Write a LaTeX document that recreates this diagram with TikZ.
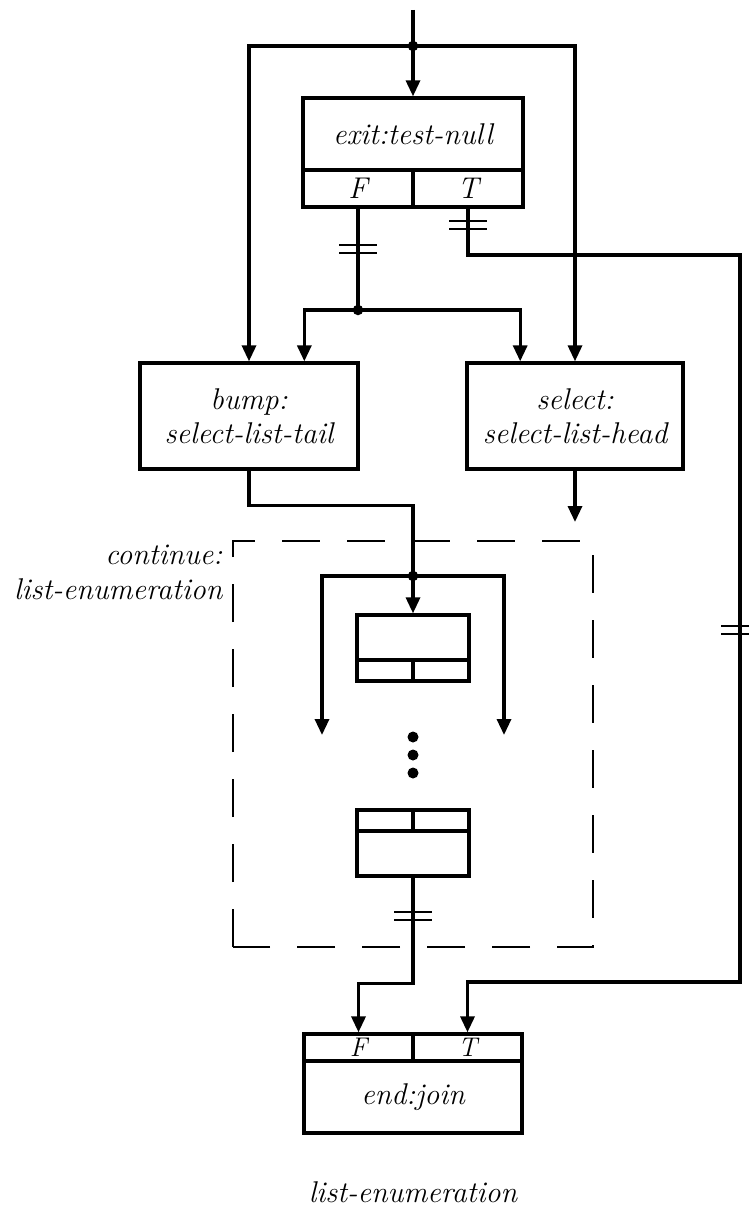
\documentclass[tikz,border=0pt]{standalone}
\usetikzlibrary{arrows.meta,calc}
\begin{document}
\begin{tikzpicture}[x=1pt,y=-1pt, line width=3.3pt,
  box/.style={draw, rectangle, inner sep=0pt, font=\fontsize{30}{34}\selectfont\itshape, align=center},
  lbl/.style={inner sep=0pt, font=\fontsize{30}{35}\selectfont\itshape},
  arr/.style={-{Triangle[length=16pt,width=14pt]}},
  dot/.style={circle, fill, inner sep=0pt, minimum size=10.5pt},
  bigdot/.style={circle, fill, inner sep=0pt, minimum size=11pt},
  brk/.pic={\draw[line width=2.6pt] (-19,-4) -- (19,-4) (-19,4) -- (19,4);}
]
\useasboundingbox (0,0) rectangle (748,1220);

% boxes
\node[box, minimum width=220pt, minimum height=72pt] (exit) at (413,134) {exit:test-null};
\node[box, minimum width=110pt, minimum height=37pt] (exitF) at (358,188.5) {F};
\node[box, minimum width=110pt, minimum height=37pt] (exitT) at (468,188.5) {T};

\node[box, minimum width=218pt, minimum height=106pt] (bump) at (249,416) {bump:\\select-list-tail};
\node[box, minimum width=216pt, minimum height=106pt] (select) at (575,416) {select:\\select-list-head};

\node[box, minimum width=112pt, minimum height=45pt] (in1a) at (413,637.5) {};
\node[box, minimum width=56pt, minimum height=21pt] (in1F) at (385,670.5) {};
\node[box, minimum width=56pt, minimum height=21pt] (in1T) at (441,670.5) {};

\node[box, minimum width=56pt, minimum height=21pt] (in2F) at (385,820.5) {};
\node[box, minimum width=56pt, minimum height=21pt] (in2T) at (441,820.5) {};
\node[box, minimum width=112pt, minimum height=45pt] (in2b) at (413,853.5) {};

\node[box, minimum width=109pt, minimum height=27pt, font=\fontsize{27}{30}\selectfont\itshape] (endF) at (358.5,1047.5) {F};
\node[box, minimum width=109pt, minimum height=27pt, font=\fontsize{27}{30}\selectfont\itshape] (endT) at (467.5,1047.5) {T};
\node[box, minimum width=218pt, minimum height=72pt] (endm) at (413,1097) {end:join};

% dashed region
\draw[dash pattern=on 38pt off 27pt, line width=2.8pt] (233,947) -- (233,541) -- (593,541) -- (593,947) -- cycle;
\node[lbl, align=right, anchor=east] (cont) at (224,572) {continue:\\list-enumeration};

% coordinates
\coordinate (in) at (413,10);
\coordinate (j1) at (413,46);
\coordinate (j2) at (358,310);
\coordinate (j3) at (413,576);
\coordinate (r1) at (740,255);
\coordinate (r2) at (740,982);
\coordinate (la) at (322,735);
\coordinate (ra) at (504,735);
\coordinate (sa) at (575,522);

% connectors
\draw (in) -- (j1);
\draw[arr] (j1) -- (exit.north);
\draw[arr] (j1) -| (bump.north);
\draw[arr] (j1) -| (select.north);
\draw (exitF.south) -- (j2);
\draw[arr] (j2) -| ($(bump.north)!0.5!(bump.north east)$);
\draw[arr] (j2) -| ($(select.north west)!0.5!(select.north)$);
\draw[arr] (exitT.south) |- (r1) -- (r2) -| (endT.north);
\draw (bump.south) -- ++(0,35) -| (j3);
\draw[arr] (j3) -- (in1a.north);
\draw[arr] (j3) -| (la);
\draw[arr] (j3) -| (ra);
\draw[arr] (select.south) -- (sa);
\draw[arr] (in2b.south) -- ++(0,106) -| (endF.north);

% junction dots
\node[dot] at (j1) {};
\node[dot] at (j2) {};
\node[dot] at (j3) {};

% ellipsis
\node[bigdot] (e1) at (413,737) {};
\node[bigdot] (e2) at (413,755) {};
\node[bigdot] (e3) at (413,773) {};

% break marks
\pic at (358,249) {brk};
\pic at (468,225) {brk};
\pic at (740,630) {brk};
\pic at (413,916) {brk};

% caption
\node[lbl] (cap) at (413,1192) {list-enumeration};
\end{tikzpicture}
\end{document}
